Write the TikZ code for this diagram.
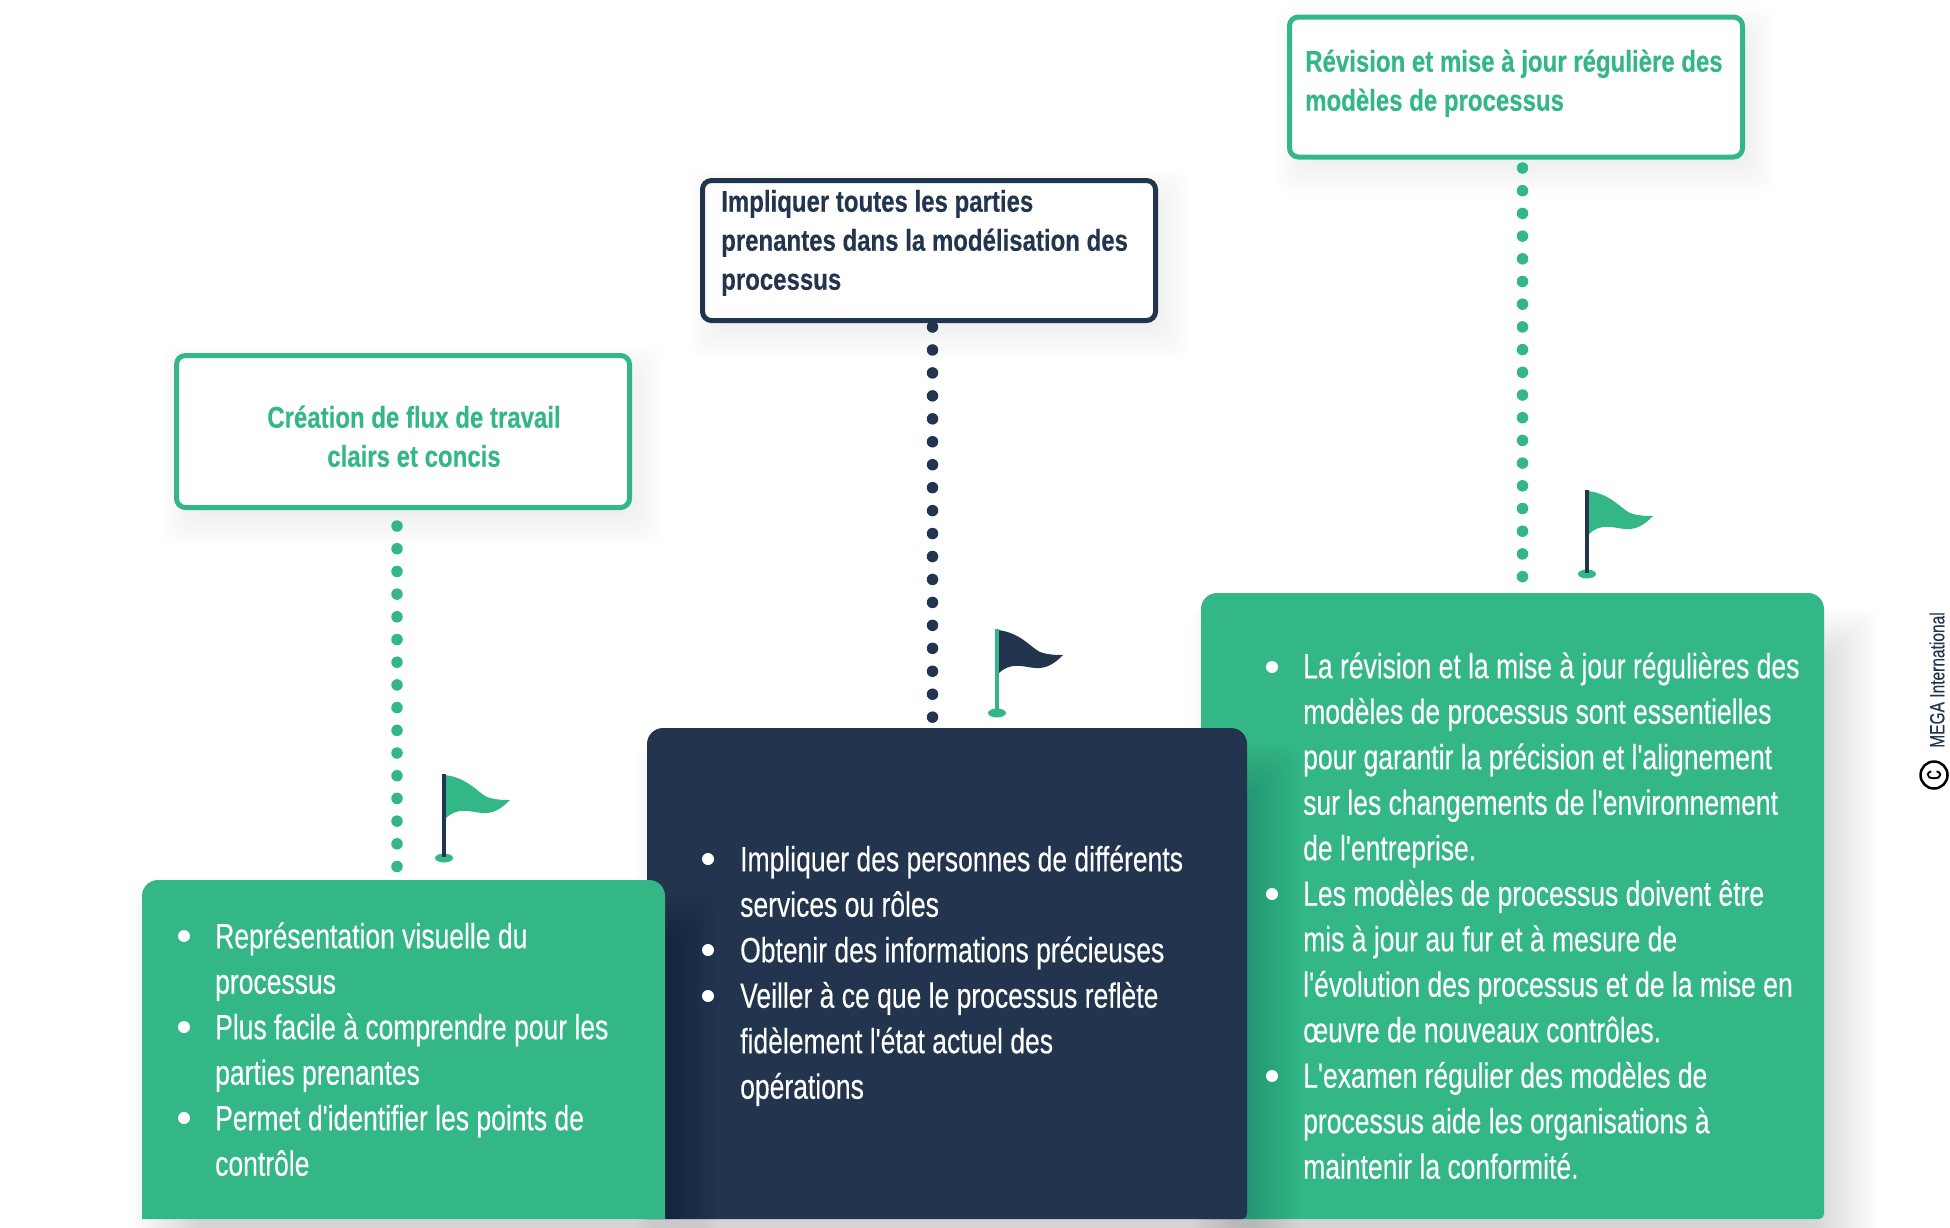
\documentclass[tikz,border=0pt]{standalone}
\usepackage{fontspec}
\setmainfont[Ligatures=TeXOff,FakeStretch=0.757,FakeBold=0.25,BoldFeatures={FakeStretch=0.80,FakeBold=0.3}]{Liberation Sans}
\definecolor{mgreen}{HTML}{33B787}
\definecolor{mnavy}{HTML}{23354E}
\newcommand\fl{\rule{0pt}{32pt}}
\newcommand\ft{\rule{0pt}{28pt}}
\newcommand\softshadow[6]{% x1 y1 x2 y2 blur-step opacity
  \foreach \bb in {-10,...,10}{
    \fill[black,opacity=#6,rounded corners=14pt]
      ({#1-\bb*#5},{#2-\bb*#5}) rectangle ({#3+\bb*#5},{#4+\bb*#5});
  }}
\newcommand\flagmark[4]{% x y pole flag
  \begin{scope}[shift={(#1,#2)}]
    \fill[#4] (1,1) .. controls (26,4) and (36,22) .. (46,24) .. controls (54,26) and (60,26) .. (66,26)
      .. controls (58,34) and (50,40) .. (38,39) .. controls (26,38) and (14,32) .. (1,45) -- cycle;
    \fill[mgreen] (0,84) ellipse [x radius=9pt,y radius=4.5pt];
    \draw[#3,line width=4.5pt] (0,0) -- (0,83);
  \end{scope}}
\tikzset{
  x=1pt,y=-1pt,
  cardtext/.style={anchor=north west,inner sep=0pt,align=left,text=white,font=\fontsize{35}{45.5}\selectfont},
  titletext/.style={anchor=north west,inner sep=0pt,font=\fontsize{30}{39}\selectfont\bfseries},
  titlebox/.style={draw=#1,fill=white,line width=5pt,rounded corners=9pt,inner sep=0pt},
  dotline/.style 2 args={draw=#1,line width=11.5pt,line cap=round,dash pattern=on 0pt off #2},
  bulletdot/.style={fill=white,circle,inner sep=0pt,minimum size=12pt},
}
\begin{document}
\begin{tikzpicture}
\useasboundingbox (0,0) rectangle (1950,1227);
\clip (0,0) rectangle (1950,1227);
\fill[white] (0,0) rectangle (1950,1227);

% right card
\softshadow{1222}{640}{1846}{1270}{3.2}{0.0075}
\fill[mgreen] (1201,1219) [rounded corners=16pt] -- (1201,593) -- (1824,593) [rounded corners=5pt] -- (1824,1219) [sharp corners] -- cycle;
% middle card
\softshadow{668}{775}{1268}{1270}{3.2}{0.0075}
\fill[mnavy] (647,1219) [rounded corners=16pt] -- (647,728) -- (1247,728) [rounded corners=5pt] -- (1247,1219) [sharp corners] -- cycle;
% left card
\softshadow{165}{925}{686}{1270}{3.2}{0.0075}
\fill[mgreen] (142,1219) [rounded corners=16pt] -- (142,880) -- (665,880) [sharp corners] -- (665,1219) -- cycle;

% title box shadows
\softshadow{184}{365}{642}{524}{2.2}{0.0045}
\softshadow{710}{190}{1168}{337}{2.2}{0.0045}
\softshadow{1297}{27}{1755}{173}{2.2}{0.0045}

% title boxes
\node[titlebox=mgreen,minimum width=453pt,minimum height=152pt] (tbL) at (403,431.5) {};
\node[titlebox=mnavy,minimum width=453pt,minimum height=140pt] (tbM) at (929,250.5) {};
\node[titlebox=mgreen,minimum width=453pt,minimum height=140pt] (tbR) at (1516,87) {};

\node[titletext,anchor=north,align=center,text=mgreen] (ttL) at (414,399.5) {\ft Création de flux de travail\\ clairs et concis};
\node[titletext,align=left,text=mnavy] (ttM) at (721,183.5) {\ft Impliquer toutes les parties\\ prenantes dans la modélisation des\\ processus};
\node[titletext,align=left,text=mgreen] (ttR) at (1305,43.5) {\ft Révision et mise à jour régulière des\\ modèles de processus};

% dotted connectors
\coordinate (d1a) at (397,526);
\coordinate (d1b) at (397,867);
\coordinate (d2a) at (932.5,327);
\coordinate (d2b) at (932.5,718);
\coordinate (d3a) at (1522.5,168);
\coordinate (d3b) at (1522.5,577);
\draw[dotline={mgreen}{22.7pt}] (d1a) -- (d1b);
\draw[dotline={mnavy}{22.95pt}] (d2a) -- (d2b);
\draw[dotline={mgreen}{22.7pt}] (d3a) -- (d3b);

% flags
\flagmark{444}{774}{mnavy}{mgreen}
\flagmark{997}{629}{mgreen}{mnavy}
\flagmark{1587}{490}{mnavy}{mgreen}

% card texts
\node[bulletdot] (bL1) at (184,936) {};
\node[bulletdot] (bL2) at (184,1027) {};
\node[bulletdot] (bL3) at (184,1118) {};
\node[cardtext] (txtL) at (215,916) {\fl Représentation visuelle du\\ processus\\ Plus facile à comprendre pour les\\ parties prenantes\\ Permet d'identifier les points de\\ contrôle};

\node[bulletdot] (bM1) at (708,859) {};
\node[bulletdot] (bM2) at (708,950) {};
\node[bulletdot] (bM3) at (708,996) {};
\node[cardtext] (txtM) at (740,839) {\fl Impliquer des personnes de différents\\ services ou rôles\\ Obtenir des informations précieuses\\ Veiller à ce que le processus reflète\\ fidèlement l'état actuel des\\ opérations};

\node[bulletdot] (bR1) at (1272,667) {};
\node[bulletdot] (bR2) at (1272,894) {};
\node[bulletdot] (bR3) at (1272,1076) {};
\node[cardtext] (txtR) at (1303,646) {\fl La révision et la mise à jour régulières des\\ modèles de processus sont essentielles\\ pour garantir la précision et l'alignement\\ sur les changements de l'environnement\\ de l'entreprise.\\ Les modèles de processus doivent être\\ mis à jour au fur et à mesure de\\ l'évolution des processus et de la mise en\\ œuvre de nouveaux contrôles.\\ L'examen régulier des modèles de\\ processus aide les organisations à\\ maintenir la conformité.};

% credit
\node[rotate=90,inner sep=0pt,text=mnavy,font=\fontsize{20.5}{24}\selectfont] (credit) at (1937,680) {MEGA International};
\node[draw=black,line width=2.5pt,circle,minimum size=27pt,inner sep=0pt,rotate=90,font=\fontsize{26}{26}\selectfont] (copy) at (1934,775) {c};
\end{tikzpicture}
\end{document}
